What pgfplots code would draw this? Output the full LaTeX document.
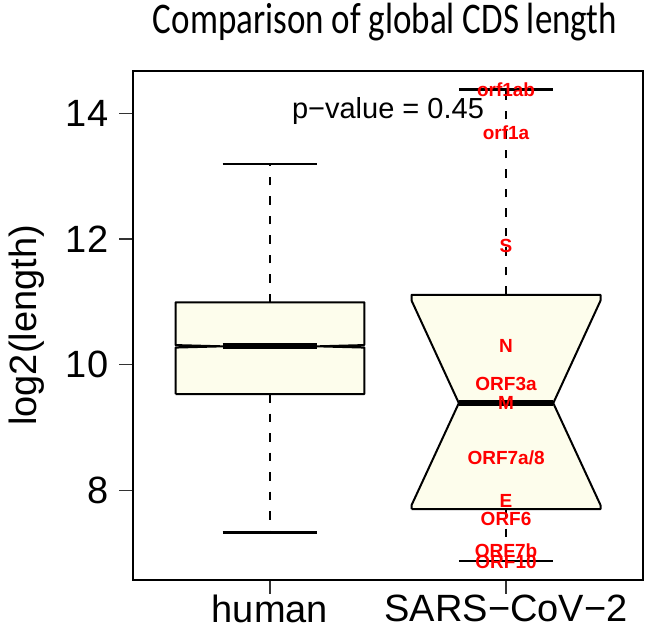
\documentclass[border=0pt]{standalone}
\usepackage{fontspec}
\setmainfont{Liberation Sans}
\newfontfamily\titlefont{Carlito}
\usepackage{pgfplots}
\pgfplotsset{compat=1.18}
\definecolor{boxfill}{HTML}{FDFDEC}

\begin{document}
\begin{tikzpicture}[x=1pt,y=1pt]
\begin{axis}[
  at={(133pt,44pt)}, anchor=south west,
  scale only axis, width=510pt, height=509.3pt,
  xmin=0.42, xmax=2.58, ymin=6.57, ymax=14.678,
  xtick={1,2}, xticklabels={human,SARS−CoV−2},
  ytick={8,10,12,14},
  tick align=outside, tick pos=left,
  major tick length=13.6pt,
  every tick/.style={black!80, line width=1.2pt},
  axis line style={line width=2pt},
  tick label style={font=\fontsize{38}{40}\selectfont},
  /pgf/number format/assume math mode=true,
  yticklabel style={inner sep=0pt, xshift=-11pt},
  xticklabel style={inner sep=0pt, yshift=-1pt},
  ylabel={log2(length)},
  ylabel style={font=\fontsize{38}{40}\selectfont, at={(axis description cs:-0.208,0.5)}, anchor=center},
  clip=false,
]

%% boxes (notched, as in R's bxp)
\addplot[fill=boxfill, draw=black, line width=2pt, line join=round] coordinates {
  (0.6,9.53) (1.4,9.53) (1.4,10.27) (1.2,10.29) (1.4,10.31) (1.4,10.99)
  (0.6,10.99) (0.6,10.31) (0.8,10.29) (0.6,10.27) (0.6,9.53)};
\addplot[fill=boxfill, draw=black, line width=2pt, line join=round] coordinates {
  (1.6,7.70) (2.4,7.70) (2.4,7.763) (2.2,9.386) (2.4,11.017) (2.4,11.11)
  (1.6,11.11) (1.6,11.017) (1.8,9.386) (1.6,7.763) (1.6,7.70)};

%% medians
\addplot[black, line width=6pt] coordinates {(0.8,10.29) (1.2,10.29)};
\addplot[black, line width=6pt] coordinates {(1.8,9.386) (2.2,9.386)};

%% whiskers
\addplot[black, line width=2.5pt, dash pattern=on 8.5pt off 11pt] coordinates {(1,10.99) (1,13.19)};
\addplot[black, line width=2.5pt, dash pattern=on 8.5pt off 11pt] coordinates {(1,9.53) (1,7.33)};
\addplot[black, line width=2.5pt, dash pattern=on 8.5pt off 11pt] coordinates {(2,11.11) (2,14.378)};
\addplot[black, line width=2.5pt, dash pattern=on 8.5pt off 11pt] coordinates {(2,7.70) (2,6.870)};

%% staples
\addplot[black, line width=2.5pt] coordinates {(0.8,13.19) (1.2,13.19)};
\addplot[black, line width=2.5pt] coordinates {(0.8,7.33) (1.2,7.33)};
\addplot[black, line width=2.5pt] coordinates {(1.8,14.378) (2.2,14.378)};
\addplot[black, line width=2.5pt] coordinates {(1.8,6.870) (2.2,6.870)};

%% gene labels
\addplot[draw=none, mark=none, nodes near coords, point meta=explicit symbolic,
  nodes near coords style={anchor=center, text=red, inner sep=0pt,
    font=\fontsize{19}{20}\selectfont\bfseries, text height=13.7pt, text depth=0pt}]
  coordinates {
  (2,14.378) [orf1ab]
  (2,13.690) [orf1a]
  (2,11.900) [S]
  (2,10.299) [N]
  (2,9.693)  [ORF3a]
  (2,9.386)  [M]
  (2,8.516)  [ORF7a/8]
  (2,7.833)  [E]
  (2,7.539)  [ORF6]
  (2,7.044)  [ORF7b]
  (2,6.870)  [ORF10]
};

\node[font=\fontsize{29}{30}\selectfont, anchor=base, yshift=-5.7pt] at (axis cs:1.5,14) {p−value = 0.45};
\end{axis}

\node[font=\titlefont\fontsize{35}{40}\selectfont, anchor=base] at (385,590)
  {\scalebox{1}[1.25]{Comparison of global CDS length}};

\pgfresetboundingbox
\path (0,0) rectangle (645,624);
\end{tikzpicture}
\end{document}
